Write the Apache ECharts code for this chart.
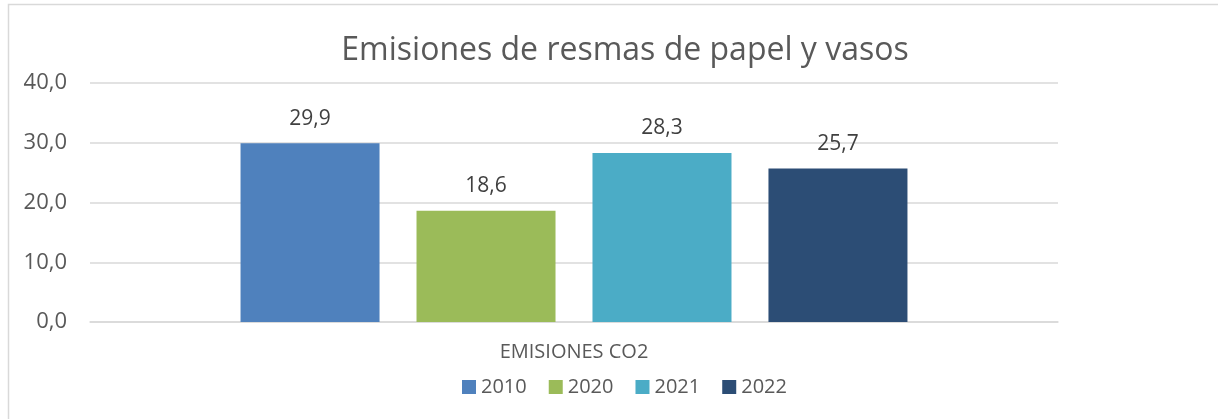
<!DOCTYPE html>
<html>
<head>
<meta charset="utf-8">
<script src="https://cdn.jsdelivr.net/npm/echarts@6/dist/echarts.min.js"></script>
<style>
  html, body { margin: 0; padding: 0; background: #fff; }
  #grafico { width: 1218px; height: 419px; }
</style>
</head>
<body>
<div id="grafico"></div>
<script>
var categorias = ['EMISIONES CO2'];
var anios = ['2010', '2020', '2021', '2022'];
var valores = [29.9, 18.6, 28.3, 25.7];
var colores = ['#4f81bd', '#9bbb59', '#4bacc6', '#2c4d75'];

function coma(v) {
    return Number(v).toFixed(1).replace('.', ',');
}

var dom = document.getElementById('grafico');
var myChart = echarts.init(dom);

var seriesArr = [];
for (let i = 0; i < anios.length; i++) {
    seriesArr.push({
        name: anios[i],
        type: 'bar',
        data: [valores[i]],
        barWidth: 139,
        barGap: '26.6%',
        itemStyle: { color: colores[i] },
        label: {
            show: true,
            position: 'top',
            distance: 14,
            color: '#404040',
            fontSize: 21,
            fontFamily: 'Open Sans',
            formatter: function (p) { return coma(p.value); }
        }
    });
}

var option = {
    animation: false,
    textStyle: { fontFamily: 'Open Sans' },
    graphic: [{
        type: 'rect',
        shape: { x: 8.5, y: 4.5, width: 1300, height: 500 },
        style: { fill: 'none', stroke: '#d9d9d9', lineWidth: 1.5 },
        silent: true
    }],
    title: {
        text: 'Emisiones de resmas de papel y vasos',
        left: 620,
        textAlign: 'center',
        top: 30,
        textStyle: { color: '#595959', fontSize: 32, fontWeight: 'normal', fontFamily: 'Open Sans' }
    },
    legend: {
        data: anios,
        left: 457,
        top: 372,
        icon: 'rect',
        itemWidth: 14,
        itemHeight: 14,
        itemGap: 22,
        textStyle: { color: '#595959', fontSize: 20, fontFamily: 'Open Sans' }
    },
    grid: { left: 90, right: 160, top: 83, bottom: 97 },
    xAxis: {
        type: 'category',
        data: categorias,
        axisLine: { lineStyle: { color: '#d9d9d9', width: 1.5 } },
        axisTick: { show: false },
        axisLabel: { color: '#595959', fontSize: 20, margin: 20, fontFamily: 'Open Sans' }
    },
    yAxis: {
        type: 'value',
        min: 0,
        max: 40,
        interval: 10,
        axisLine: { show: false },
        axisTick: { show: false },
        splitLine: { lineStyle: { color: '#d9d9d9', width: 1.5 } },
        axisLabel: {
            color: '#595959',
            fontSize: 22,
            margin: 23,
            fontFamily: 'Open Sans',
            formatter: function (v) { return coma(v); }
        }
    },
    series: seriesArr
};
myChart.setOption(option, true);
</script>
</body>
</html>
